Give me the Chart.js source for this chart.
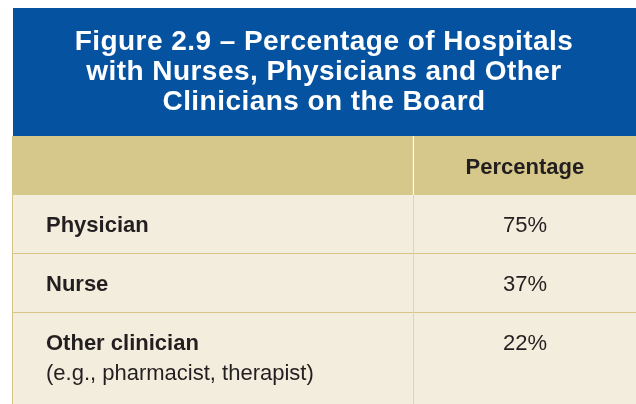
<!DOCTYPE html>
<html>
<head>
<meta charset="utf-8">
<script src="https://cdn.jsdelivr.net/npm/chart.js@4.4.1/dist/chart.umd.min.js"></script>
<style>
  html, body { margin: 0; padding: 0; background: #ffffff; }
  canvas { display: block; }
</style>
</head>
<body>
<canvas id="myChart" width="636" height="404"></canvas>
<script>
// table content
const titleLines = ['Figure 2.9 \u2013 Percentage of Hospitals', 'with Nurses, Physicians and Other', 'Clinicians on the Board'];
const columnHeader = 'Percentage';
const rowLabels = ['Physician', 'Nurse', 'Other clinician'];
const rowNotes = ['', '', '(e.g., pharmacist, therapist)'];
const percentages = [75, 37, 22];

// layout / look
const labelShare = 0.644;          // share of the width taken by the label column
const blue = '#0552a0';
const headBeige = '#d6c78b';
const cream = '#f2eddd';
const lineBeige = '#d6c586';
const ink = '#231f20';
const fontFamily = '"Liberation Sans", Arial, Helvetica, sans-serif';

// row 0 = header, rows 1..n = body, last = rest of the final cell (cut off at the bottom)
const rowIdx = [0, ...rowLabels.map((_, i) => i + 1), rowLabels.length + 1];
const lastRow = rowLabels.length;

function cellBorder(ctx) {
    const row = ctx.raw ? ctx.raw.y : 0;
    const isLabelCol = ctx.datasetIndex === 0;
    if (row === 0) return isLabelCol ? {top: 0, right: 1, bottom: 0, left: 0} : 0;
    const bottom = row < lastRow ? 1 : 0;
    if (isLabelCol) return {top: 0, right: 1, bottom: bottom, left: 1};
    return {top: 0, right: 0, bottom: bottom, left: 0};
}

const tableCells = {
    id: 'tableCells',
    beforeDraw(chart) {
        const tb = chart.titleBlock;
        const c = chart.ctx;
        c.save();
        c.fillStyle = blue;
        c.fillRect(tb.left + 1, tb.top, tb.width - 1, tb.height);
        c.restore();
        c.letterSpacing = '0.45px';
    },
    beforeDatasetsDraw(chart) {
        chart.ctx.letterSpacing = '0px';
    },
    afterDatasetsDraw(chart) {
        const c = chart.ctx;
        const x = chart.scales.x;
        const y = chart.scales.y;
        const labelX = x.getPixelForValue(0) + 34;
        const valueX = x.getPixelForValue((labelShare + 1) / 2);
        c.save();
        c.fillStyle = ink;
        c.textBaseline = 'middle';

        c.font = 'bold 22px ' + fontFamily;
        c.textAlign = 'center';
        c.fillText(columnHeader, valueX, y.getPixelForValue(0) + 2);

        rowLabels.forEach((label, i) => {
            const py = y.getPixelForValue(i + 1) + 1.5;
            c.textAlign = 'left';
            c.font = 'bold 22px ' + fontFamily;
            c.fillText(label, labelX, py);
            if (rowNotes[i]) {
                c.font = '22px ' + fontFamily;
                c.fillText(rowNotes[i], labelX, py + 29.5);
            }
            c.textAlign = 'center';
            c.font = '22px ' + fontFamily;
            c.fillText(percentages[i] + '%', valueX, py);
        });
        c.restore();
    }
};

const ctx = document.getElementById('myChart');
new Chart(ctx, {
    type: 'bar',
    data: {
        datasets: [{
            label: 'label column',
            data: rowIdx.map(i => ({x: [0, labelShare], y: i})),
            backgroundColor: c => (c.raw && c.raw.y === 0) ? headBeige : cream,
            borderColor: c => (c.raw && c.raw.y === 0) ? '#ffffff' : lineBeige,
            borderWidth: cellBorder
        }, {
            label: 'value column',
            data: rowIdx.map(i => ({x: [labelShare, 1], y: i})),
            backgroundColor: c => (c.raw && c.raw.y === 0) ? headBeige : cream,
            borderColor: lineBeige,
            borderWidth: cellBorder
        }]
    },
    options: {
        indexAxis: 'y',
        responsive: false,
        animation: false,
        events: [],
        grouped: false,
        barPercentage: 1,
        categoryPercentage: 1,
        borderSkipped: false,
        inflateAmount: 0,
        layout: {
            padding: {top: 8, left: 12, right: 0, bottom: 0}
        },
        scales: {
            x: {
                type: 'linear',
                min: 0,
                max: 1,
                offset: false,
                display: false
            },
            y: {
                type: 'linear',
                reverse: true,
                min: -0.5,
                max: -0.5 + 268 / 59,
                offset: false,
                bounds: 'data',
                grace: 0,
                display: false,
                afterBuildTicks: s => {
                    s.ticks = rowIdx.map(v => ({value: v}));
                }
            }
        },
        plugins: {
            legend: { display: false },
            tooltip: { enabled: false },
            title: {
                display: true,
                text: titleLines,
                color: '#ffffff',
                align: 'center',
                font: {family: fontFamily, size: 28, weight: 'bold', lineHeight: '30px'},
                padding: {top: 19.5, bottom: 18.5}
            }
        }
    },
    plugins: [tableCells]
});
</script>
</body>
</html>
